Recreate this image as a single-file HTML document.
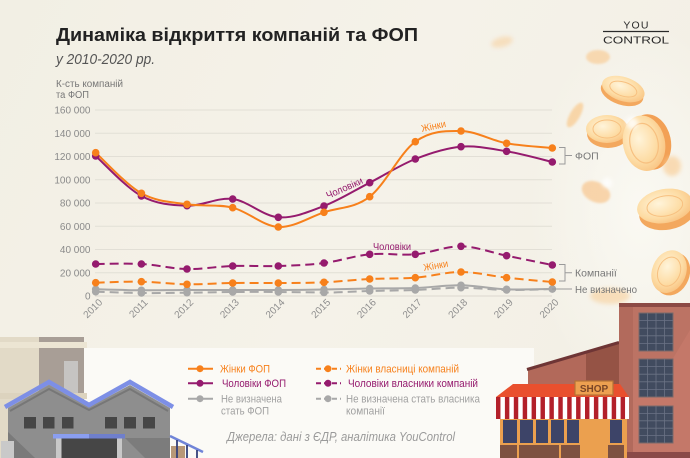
<!DOCTYPE html>
<html><head><meta charset="utf-8"><style>
html,body{margin:0;padding:0;width:690px;height:458px;overflow:hidden;background:#f4f1e7}
svg{display:block}
text{font-family:"Liberation Sans","DejaVu Sans",sans-serif}
</style></head><body>
<svg width="690" height="458" viewBox="0 0 690 458" xmlns="http://www.w3.org/2000/svg">
<defs>
<linearGradient id="bg" x1="0" y1="0" x2="1" y2="0.3">
<stop offset="0" stop-color="#f2efe4"/><stop offset="0.6" stop-color="#f5f2e9"/><stop offset="1" stop-color="#f3f0e6"/>
</linearGradient>
<radialGradient id="glow" cx="0.5" cy="0.5" r="0.5">
<stop offset="0" stop-color="#fbfaf4" stop-opacity="0.9"/><stop offset="1" stop-color="#fbfaf4" stop-opacity="0"/>
</radialGradient>
<radialGradient id="coin" cx="0.4" cy="0.4" r="0.7">
<stop offset="0" stop-color="#fff4da"/><stop offset="0.6" stop-color="#fddca4"/><stop offset="1" stop-color="#f8bf7c"/>
</radialGradient>
<filter id="blur" x="-50%" y="-50%" width="200%" height="200%"><feGaussianBlur stdDeviation="2.2"/></filter>
<filter id="blur2" x="-50%" y="-50%" width="200%" height="200%"><feGaussianBlur stdDeviation="1"/></filter>
<pattern id="stripes" x="496" y="0" width="8.9" height="30" patternUnits="userSpaceOnUse">
<rect x="0" y="0" width="4.45" height="30" fill="#b3202a"/><rect x="4.45" y="0" width="4.45" height="30" fill="#ffffff"/>
</pattern>
</defs>
<rect width="690" height="458" fill="url(#bg)"/>
<ellipse cx="640" cy="210" rx="110" ry="190" fill="url(#glow)"/>
<rect x="84" y="348" width="450" height="110" fill="#fbfaf6"/>

<g>
<ellipse cx="502" cy="42" rx="11" ry="5" fill="#f8c88a" opacity="0.45" filter="url(#blur)" transform="rotate(-15 502 42)"/>
<ellipse cx="598" cy="57" rx="12" ry="7" fill="#f9c88c" opacity="0.6" filter="url(#blur2)"/>
<g transform="rotate(18 623 90)"><ellipse cx="623" cy="93" rx="22" ry="12" fill="#f3a85e"/><ellipse cx="623" cy="89" rx="22" ry="12" fill="url(#coin)"/><ellipse cx="623" cy="89" rx="14" ry="7" fill="none" stroke="#f7c080" stroke-width="1"/></g>
<ellipse cx="575" cy="115" rx="5" ry="14" fill="#f9c98d" opacity="0.7" filter="url(#blur2)" transform="rotate(30 575 115)"/>
<g><ellipse cx="608" cy="134" rx="21" ry="14" fill="#f3a85e"/><ellipse cx="607" cy="129" rx="21" ry="14" fill="url(#coin)"/><ellipse cx="607" cy="129" rx="14" ry="9" fill="none" stroke="#f7c080" stroke-width="1"/></g>
<g transform="rotate(-12 645 143)"><ellipse cx="650" cy="143" rx="21" ry="28" fill="#f2a055"/><ellipse cx="644" cy="143" rx="21" ry="28" fill="url(#coin)"/><ellipse cx="644" cy="143" rx="14" ry="20" fill="none" stroke="#f7c080" stroke-width="1.2"/></g>
<circle cx="632" cy="123" r="6" fill="#ffffff" opacity="0.8" filter="url(#blur)"/>
<ellipse cx="672" cy="166" rx="9" ry="10" fill="#f9c98d" opacity="0.6" filter="url(#blur)"/>
<ellipse cx="596" cy="192" rx="15" ry="10" fill="#f8be7e" opacity="0.6" filter="url(#blur2)" transform="rotate(25 596 192)"/>
<circle cx="607" cy="183" r="5" fill="#ffffff" opacity="0.8" filter="url(#blur)"/>
<g transform="rotate(-10 665 207)"><ellipse cx="666" cy="213" rx="28" ry="17" fill="#f3a85e"/><ellipse cx="665" cy="206" rx="28" ry="17" fill="url(#coin)"/><ellipse cx="665" cy="206" rx="18" ry="10" fill="none" stroke="#f7c080" stroke-width="1"/></g>
<g transform="rotate(22 670 272)"><ellipse cx="673" cy="273" rx="17" ry="22" fill="#f3a85e"/><ellipse cx="669" cy="272" rx="17" ry="22" fill="url(#coin)"/><ellipse cx="669" cy="272" rx="11" ry="15" fill="none" stroke="#f7c080" stroke-width="1"/></g>
<ellipse cx="610" cy="296" rx="20" ry="8" fill="#f8c88a" opacity="0.5" filter="url(#blur)"/>
</g>

<text x="636.5" y="28.5" font-size="10.5" fill="#2a2a2a" text-anchor="middle" letter-spacing="1.2">YOU</text>
<line x1="603" y1="31.5" x2="669" y2="31.5" stroke="#2a2a2a" stroke-width="1.2"/>
<text x="603" y="43.5" font-size="10.5" fill="#2a2a2a" textLength="66" lengthAdjust="spacingAndGlyphs">CONTROL</text>

<text x="56" y="41" font-size="18.5" font-weight="bold" fill="#222" textLength="362" lengthAdjust="spacingAndGlyphs">Динаміка відкриття компаній та ФОП</text>
<text x="56" y="64" font-size="15" font-style="italic" fill="#555" textLength="99" lengthAdjust="spacingAndGlyphs">у 2010-2020 рр.</text>
<text x="56" y="87" font-size="10" fill="#777" textLength="67" lengthAdjust="spacingAndGlyphs">К-сть компаній</text>
<text x="56" y="98" font-size="10" fill="#777" textLength="33" lengthAdjust="spacingAndGlyphs">та ФОП</text>

<g stroke="#e2dfd6" stroke-width="1">
<line x1="95" y1="110" x2="552" y2="110"/>
<line x1="95" y1="133.25" x2="552" y2="133.25"/>
<line x1="95" y1="156.5" x2="552" y2="156.5"/>
<line x1="95" y1="179.75" x2="552" y2="179.75"/>
<line x1="95" y1="203" x2="552" y2="203"/>
<line x1="95" y1="226.25" x2="552" y2="226.25"/>
<line x1="95" y1="249.5" x2="552" y2="249.5"/>
<line x1="95" y1="272.75" x2="552" y2="272.75"/>
<line x1="95" y1="296" x2="552" y2="296" stroke="#dcd8cf"/>
</g>
<g font-size="10" fill="#8a8a8a" text-anchor="end">
<text x="90.5" y="113.5">160 000</text>
<text x="90.5" y="136.75">140 000</text>
<text x="90.5" y="160">120 000</text>
<text x="90.5" y="183.25">100 000</text>
<text x="90.5" y="206.5">80 000</text>
<text x="90.5" y="229.75">60 000</text>
<text x="90.5" y="253">40 000</text>
<text x="90.5" y="276.25">20 000</text>
<text x="90.5" y="299.5">0</text>
</g>
<g font-size="10" fill="#8f8f8f" text-anchor="end">
<text transform="translate(103 303) rotate(-45)">2010</text>
<text transform="translate(148.4 303) rotate(-45)">2011</text>
<text transform="translate(194 303) rotate(-45)">2012</text>
<text transform="translate(239.7 303) rotate(-45)">2013</text>
<text transform="translate(285.3 303) rotate(-45)">2014</text>
<text transform="translate(331 303) rotate(-45)">2015</text>
<text transform="translate(376.7 303) rotate(-45)">2016</text>
<text transform="translate(422.3 303) rotate(-45)">2017</text>
<text transform="translate(468 303) rotate(-45)">2018</text>
<text transform="translate(513.6 303) rotate(-45)">2019</text>
<text transform="translate(559.3 303) rotate(-45)">2020</text>
</g>

<g fill="none" stroke-width="2">
<path stroke="#a8a8a8" stroke-dasharray="9 5" d="M95.7,291.7 C103.3,291.9 126.1,292.8 141.4,293 S171.8,292.9 187,292.7 S217.5,292.1 232.7,292 S263.1,291.9 278.3,292 S308.8,292.3 324,292.5 S354.4,291.4 369.7,291 S400.1,290.5 415.3,290 S445.8,287.7 461,287.7 S491.4,289.8 506.6,290 S544.7,289.2 552.3,289"/>
<path stroke="#a8a8a8" d="M95.7,289.3 C103.3,289.5 126.1,290.2 141.4,290.3 S171.8,290 187,290 S217.5,290 232.7,290 S263.1,290.1 278.3,290 S308.8,289.8 324,289.5 S354.4,288.8 369.7,288.5 S400.1,288.5 415.3,288 S445.8,285.1 461,285.3 S491.4,288.7 506.6,289.3 S544.7,289 552.3,289"/>
<path stroke="#f7801b" stroke-dasharray="9 5" d="M95.7,282.7 C103.3,282.5 126.1,281.4 141.4,281.7 S171.8,284.1 187,284.3 S217.5,283.2 232.7,283 S263.1,283.1 278.3,283 S308.8,283 324,282.3 S354.4,279.8 369.7,279 S400.1,278.9 415.3,277.7 S445.8,272 461,272 S491.4,276 506.6,277.7 S544.7,281.3 552.3,282"/>
<path stroke="#951b6e" stroke-dasharray="9 5" d="M95.7,264 C103.3,264 126.1,263.2 141.4,264 S171.8,268.7 187,269 S217.5,266.5 232.7,266 S263.1,266.5 278.3,266 S308.8,265 324,263 S354.4,255.8 369.7,254.3 S400.1,255.6 415.3,254.3 S445.8,246.1 461,246.3 S491.4,252.6 506.6,255.7 S544.7,263.5 552.3,265"/>
<path stroke="#951b6e" d="M95.7,156 C103.3,162.7 126.1,187.7 141.4,196 S171.8,205.2 187,205.7 S217.5,197.1 232.7,199 S263.1,216.1 278.3,217.3 S308.8,211.8 324,206 S354.4,190.5 369.7,182.7 S400.1,165 415.3,159 S445.8,148 461,146.7 S491.4,148.8 506.6,151.3 S544.7,160.2 552.3,162"/>
<path stroke="#f7801b" d="M95.7,152.7 C103.3,159.5 126.1,184.7 141.4,193.3 S171.8,201.9 187,204.3 S217.5,203.9 232.7,207.7 S263.1,226.2 278.3,227 S308.8,217.4 324,212.3 S354.4,208.5 369.7,196.7 S400.1,152.7 415.3,141.7 S445.8,130.7 461,131 S491.4,140.5 506.6,143.3 S544.7,147.2 552.3,148"/>
</g>
<g fill="#a8a8a8">
<circle cx="95.7" cy="291.7" r="3.8"/><circle cx="141.4" cy="293" r="3.8"/><circle cx="187" cy="292.7" r="3.8"/><circle cx="232.7" cy="292" r="3.8"/><circle cx="278.3" cy="292" r="3.8"/><circle cx="324" cy="292.5" r="3.8"/><circle cx="369.7" cy="291" r="3.8"/><circle cx="415.3" cy="290" r="3.8"/><circle cx="461" cy="287.7" r="3.8"/><circle cx="506.6" cy="290" r="3.8"/><circle cx="552.3" cy="289" r="3.8"/>
<circle cx="95.7" cy="289.3" r="3.8"/><circle cx="141.4" cy="290.3" r="3.8"/><circle cx="187" cy="290" r="3.8"/><circle cx="232.7" cy="290" r="3.8"/><circle cx="278.3" cy="290" r="3.8"/><circle cx="324" cy="289.5" r="3.8"/><circle cx="369.7" cy="288.5" r="3.8"/><circle cx="415.3" cy="288" r="3.8"/><circle cx="461" cy="285.3" r="3.8"/><circle cx="506.6" cy="289.3" r="3.8"/><circle cx="552.3" cy="289" r="3.8"/>
</g>
<g fill="#f7801b">
<circle cx="95.7" cy="282.7" r="3.8"/><circle cx="141.4" cy="281.7" r="3.8"/><circle cx="187" cy="284.3" r="3.8"/><circle cx="232.7" cy="283" r="3.8"/><circle cx="278.3" cy="283" r="3.8"/><circle cx="324" cy="282.3" r="3.8"/><circle cx="369.7" cy="279" r="3.8"/><circle cx="415.3" cy="277.7" r="3.8"/><circle cx="461" cy="272" r="3.8"/><circle cx="506.6" cy="277.7" r="3.8"/><circle cx="552.3" cy="282" r="3.8"/>
</g>
<g fill="#951b6e">
<circle cx="95.7" cy="264" r="3.8"/><circle cx="141.4" cy="264" r="3.8"/><circle cx="187" cy="269" r="3.8"/><circle cx="232.7" cy="266" r="3.8"/><circle cx="278.3" cy="266" r="3.8"/><circle cx="324" cy="263" r="3.8"/><circle cx="369.7" cy="254.3" r="3.8"/><circle cx="415.3" cy="254.3" r="3.8"/><circle cx="461" cy="246.3" r="3.8"/><circle cx="506.6" cy="255.7" r="3.8"/><circle cx="552.3" cy="265" r="3.8"/>
<circle cx="95.7" cy="156" r="3.8"/><circle cx="141.4" cy="196" r="3.8"/><circle cx="187" cy="205.7" r="3.8"/><circle cx="232.7" cy="199" r="3.8"/><circle cx="278.3" cy="217.3" r="3.8"/><circle cx="324" cy="206" r="3.8"/><circle cx="369.7" cy="182.7" r="3.8"/><circle cx="415.3" cy="159" r="3.8"/><circle cx="461" cy="146.7" r="3.8"/><circle cx="506.6" cy="151.3" r="3.8"/><circle cx="552.3" cy="162" r="3.8"/>
</g>
<g fill="#f7801b">
<circle cx="95.7" cy="152.7" r="3.8"/><circle cx="141.4" cy="193.3" r="3.8"/><circle cx="187" cy="204.3" r="3.8"/><circle cx="232.7" cy="207.7" r="3.8"/><circle cx="278.3" cy="227" r="3.8"/><circle cx="324" cy="212.3" r="3.8"/><circle cx="369.7" cy="196.7" r="3.8"/><circle cx="415.3" cy="141.7" r="3.8"/><circle cx="461" cy="131" r="3.8"/><circle cx="506.6" cy="143.3" r="3.8"/><circle cx="552.3" cy="148" r="3.8"/>
</g>

<text transform="translate(422 132) rotate(-12)" font-size="10" fill="#f7801b" textLength="25" lengthAdjust="spacingAndGlyphs">Жінки</text>
<text transform="translate(328 199) rotate(-24)" font-size="10" fill="#951b6e" textLength="39" lengthAdjust="spacingAndGlyphs">Чоловіки</text>
<text x="373" y="250" font-size="10" fill="#951b6e" textLength="38" lengthAdjust="spacingAndGlyphs">Чоловіки</text>
<text transform="translate(424 271) rotate(-10)" font-size="10" fill="#f7801b" textLength="25" lengthAdjust="spacingAndGlyphs">Жінки</text>

<g fill="none" stroke="#9a9a9a" stroke-width="1">
<path d="M559,147.5 H565 V164 H559 M565,155.5 H572"/>
<path d="M559,264.5 H565 V281 H559 M565,272.7 H572"/>
<path d="M552,289 H572"/>
</g>
<g font-size="10.5" fill="#777">
<text x="575" y="159.3">ФОП</text>
<text x="575" y="276.5">Компанії</text>
<text x="575" y="292.8" textLength="62" lengthAdjust="spacingAndGlyphs">Не визначено</text>
</g>

<g stroke-width="2" fill="none">
<line x1="188" y1="368.7" x2="213" y2="368.7" stroke="#f7801b"/>
<line x1="188" y1="383.3" x2="213" y2="383.3" stroke="#951b6e"/>
<line x1="188" y1="398.7" x2="213" y2="398.7" stroke="#a8a8a8"/>
<line x1="316" y1="368.7" x2="341" y2="368.7" stroke="#f7801b" stroke-dasharray="5 3"/>
<line x1="316" y1="383.3" x2="341" y2="383.3" stroke="#951b6e" stroke-dasharray="5 3"/>
<line x1="316" y1="398.7" x2="341" y2="398.7" stroke="#a8a8a8" stroke-dasharray="5 3"/>
</g>
<circle cx="200" cy="368.7" r="3.5" fill="#f7801b"/>
<circle cx="200" cy="383.3" r="3.5" fill="#951b6e"/>
<circle cx="200" cy="398.7" r="3.5" fill="#a8a8a8"/>
<circle cx="328" cy="368.7" r="3.5" fill="#f7801b"/>
<circle cx="328" cy="383.3" r="3.5" fill="#951b6e"/>
<circle cx="328" cy="398.7" r="3.5" fill="#a8a8a8"/>
<g font-size="11">
<text x="220" y="372.5" fill="#f7801b" textLength="50" lengthAdjust="spacingAndGlyphs">Жінки ФОП</text>
<text x="222" y="387.2" fill="#951b6e" textLength="64" lengthAdjust="spacingAndGlyphs">Чоловіки ФОП</text>
<text x="221" y="402.5" fill="#a0a0a0" textLength="61" lengthAdjust="spacingAndGlyphs">Не визначена</text>
<text x="221" y="414.5" fill="#a0a0a0" textLength="48" lengthAdjust="spacingAndGlyphs">стать ФОП</text>
<text x="346" y="372.5" fill="#f7801b" textLength="113" lengthAdjust="spacingAndGlyphs">Жінки власниці компаній</text>
<text x="348" y="387.2" fill="#951b6e" textLength="130" lengthAdjust="spacingAndGlyphs">Чоловіки власники компаній</text>
<text x="346" y="402.5" fill="#a0a0a0" textLength="134" lengthAdjust="spacingAndGlyphs">Не визначена стать власника</text>
<text x="346" y="414.5" fill="#a0a0a0" textLength="39" lengthAdjust="spacingAndGlyphs">компанії</text>
</g>
<text x="227" y="441" font-size="13" font-style="italic" fill="#9a9a9a" textLength="228" lengthAdjust="spacingAndGlyphs">Джерела: дані з ЄДР, аналітика YouControl</text>

<rect x="0" y="337" width="84" height="121" fill="#e2dac7"/>
<rect x="39" y="337" width="45" height="121" fill="#a89e96"/>
<rect x="0" y="342" width="87" height="6" fill="#ece5d3"/>
<rect x="64" y="361" width="14" height="36" fill="#c6c4c2"/>
<rect x="0" y="393" width="87" height="6" fill="#dcd3be"/>
<polygon points="8,408 49,385 89,407 130,385 170,408 170,458 8,458" fill="#8e8e8e"/>
<polygon points="8,432 35,458 8,458" fill="#7a7a7a"/>
<polygon points="125,438 170,438 170,458 145,458" fill="#7c7c7c"/>
<polyline points="5,407 49,382 89,405 130,382 173,407" fill="none" stroke="#7d8fe6" stroke-width="4.5"/>
<polyline points="10,411 49,389 89,410 130,389 168,411" fill="none" stroke="#777" stroke-width="2"/>
<g fill="#464646">
<rect x="24" y="417" width="12" height="11.5"/><rect x="43" y="417" width="11.5" height="11.5"/><rect x="62" y="417" width="11.5" height="11.5"/>
<rect x="105" y="417" width="12" height="11.5"/><rect x="124" y="417" width="12" height="11.5"/><rect x="143" y="417" width="12" height="11.5"/>
</g>
<rect x="53" y="434" width="36" height="4.5" fill="#8a9ef0"/>
<rect x="89" y="434" width="36" height="4.5" fill="#6f7fcc"/>
<rect x="56" y="438.5" width="66" height="20" fill="#c8c8c8"/>
<rect x="61.5" y="438.5" width="55.5" height="20" fill="#464646"/>
<rect x="1" y="441" width="13" height="17" fill="#c9c9c9"/>
<rect x="171" y="446" width="14" height="12" fill="#b89878"/>
<line x1="170" y1="436" x2="203" y2="452" stroke="#7084d8" stroke-width="2.5"/>
<g stroke="#34407a" stroke-width="1.8"><line x1="177" y1="440" x2="177" y2="458"/><line x1="187" y1="445" x2="187" y2="458"/><line x1="197" y1="450" x2="197" y2="458"/></g>

<polygon points="528,369 619,342 619,458 528,458" fill="#b2695a"/>
<polygon points="586,352 619,342 619,458 586,458" fill="#955345"/>
<line x1="527" y1="369.5" x2="619" y2="342.5" stroke="#6e3535" stroke-width="3"/>
<rect x="619" y="304" width="71" height="154" fill="#c47869"/>
<rect x="619" y="304" width="14" height="154" fill="#b26a5c"/>
<rect x="619" y="303" width="71" height="4" fill="#8c4a45"/>
<polygon points="633,307 690,307 690,330 660,380 633,380" fill="#b46d5f" opacity="0.45"/>
<g fill="#414b5f" stroke="#7a6a6a" stroke-width="1">
<rect x="639" y="313" width="34" height="38"/><rect x="639" y="359" width="34" height="38"/><rect x="639" y="406" width="34" height="37"/>
</g>
<g stroke="#6b7385" stroke-width="0.8">
<path d="M647.5,313V351M656,313V351M664.5,313V351M639,320.6H673M639,328.2H673M639,335.8H673M639,343.4H673"/>
<path d="M647.5,359V397M656,359V397M664.5,359V397M639,366.6H673M639,374.2H673M639,381.8H673M639,389.4H673"/>
<path d="M647.5,406V443M656,406V443M664.5,406V443M639,413.4H673M639,420.8H673M639,428.2H673M639,435.6H673"/>
</g>
<rect x="619" y="452" width="71" height="6" fill="#8a4a48"/>
<rect x="500" y="419" width="127" height="39" fill="#eba04f"/>
<g fill="#3d4468">
<rect x="503" y="420" width="14" height="23"/><rect x="520" y="420" width="13" height="23"/><rect x="536" y="420" width="12" height="23"/><rect x="551" y="420" width="13" height="23"/><rect x="567" y="420" width="12" height="23"/><rect x="610" y="420" width="12" height="23"/>
</g>
<rect x="500" y="445" width="80" height="13" fill="#7d5141"/>
<rect x="608" y="445" width="16" height="13" fill="#7d5141"/>
<g stroke="#eba04f" stroke-width="2"><line x1="518" y1="444" x2="518" y2="458"/><line x1="560" y1="444" x2="560" y2="458"/></g>
<polygon points="513,384 620,384 629,397 496,397" fill="#e9502e"/>
<rect x="496" y="397" width="133" height="22" fill="url(#stripes)"/>
<rect x="575" y="381" width="38" height="14" fill="#eda050" stroke="#b57336" stroke-width="1.2"/>
<text x="594" y="392" font-size="10" font-weight="bold" fill="#7a4526" text-anchor="middle">SHOP</text>
</svg>
</body></html>
